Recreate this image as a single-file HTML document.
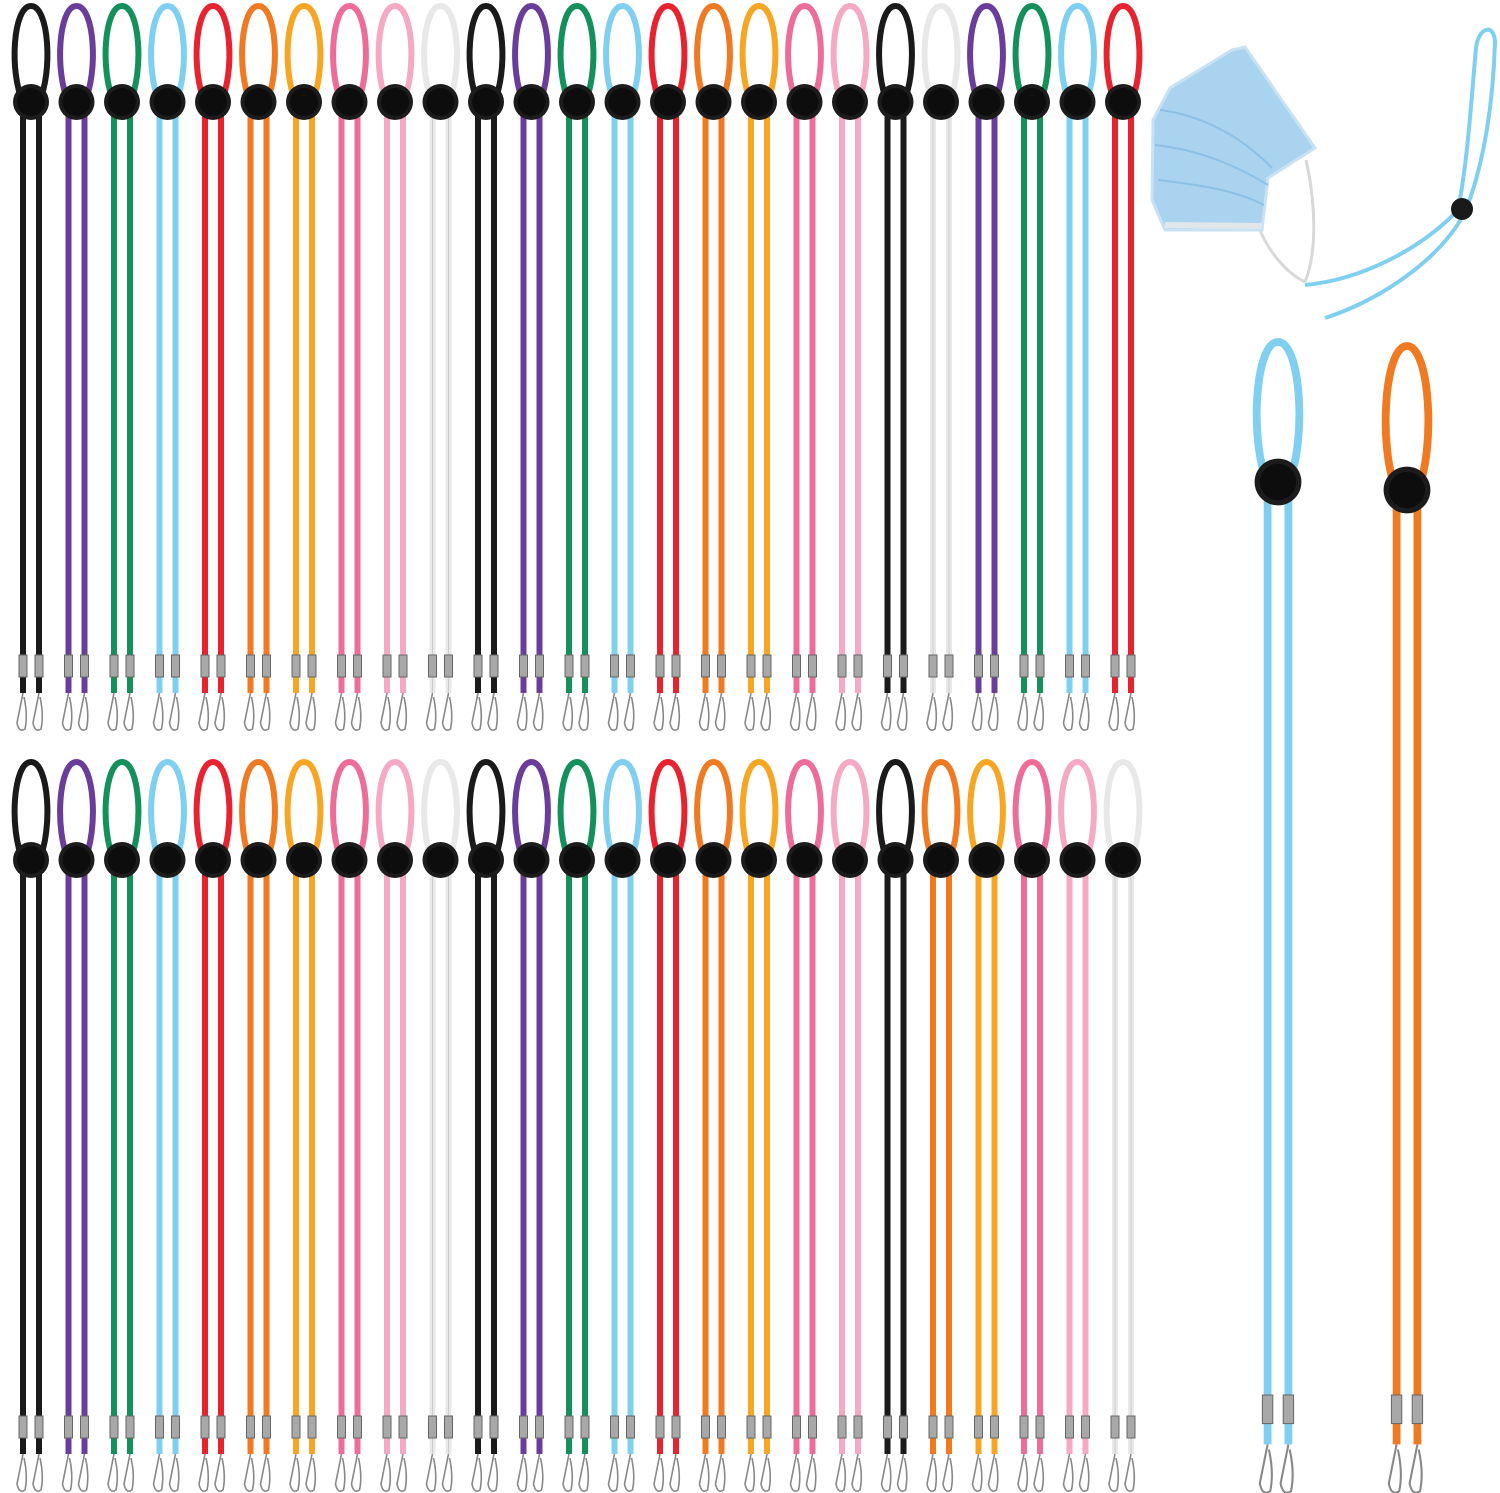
<!DOCTYPE html>
<html><head><meta charset="utf-8"><style>
html,body{margin:0;padding:0;background:#fff;width:1500px;height:1493px;overflow:hidden}
</style></head><body>
<svg id="s" width="1500" height="1493" viewBox="0 0 1500 1493" xmlns="http://www.w3.org/2000/svg"></svg>
<script>
const C={k:'#1a1a1a',p:'#6a3d9a',g:'#14905a',b:'#7fcff0',r:'#e8232f',o:'#f07a22',y:'#f6a623',h:'#ee6c98',l:'#f5a9c4',w:'#e8e8e8'};
const row1='k p g b r o y h l w k p g b r o y h l k w p g b r'.split(' ');
const row2='k p g b r o y h l w k p g b r o y h l k o y h l w'.split(' ');
let out='';
function lany(cx,top,by,bot,col,s){
  const dx=8*s, cw=6*s, lw=18*s;
  out+=`<path d="M${cx-dx} ${by} C${cx-lw-4*s} ${by-30*s} ${cx-lw} ${top} ${cx} ${top} C${cx+lw} ${top} ${cx+lw+4*s} ${by-30*s} ${cx+dx} ${by}" fill="none" stroke="${col}" stroke-width="${cw}"/>`;
  for(const x of [cx-dx,cx+dx]){
    out+=`<line x1="${x}" y1="${by}" x2="${x}" y2="${bot+38*s}" stroke="${col}" stroke-width="${cw}"/>`;
    if(col==='#e8e8e8') out+=`<line x1="${x}" y1="${by}" x2="${x}" y2="${bot+38*s}" stroke="#ccc" stroke-width="1"/>`;
  }
  out+=`<circle cx="${cx}" cy="${by}" r="${18*s}" fill="#1c1c1c"/><circle cx="${cx}" cy="${by}" r="${14*s}" fill="#0d0d0d"/>`;
  for(const x of [cx-dx,cx+dx]){
    out+=`<rect x="${x-4*s}" y="${bot}" width="${8*s}" height="${22*s}" fill="#a8a8a8" stroke="#666" stroke-width="1"/>`;
    out+=`<path d="M${x} ${bot+38*s} L${x-6*s} ${bot+68*s} Q${x-4*s} ${bot+78*s} ${x+2*s} ${bot+74*s} Q${x+5*s} ${bot+60*s} ${x+1*s} ${bot+42*s}" fill="none" stroke="#888" stroke-width="${1.6*s}"/>`;
  }
}
for(let i=0;i<25;i++){const cx=31+i*45.5;lany(cx,6,102,655,C[row1[i]],1);lany(cx,762,860,1416,C[row2[i]],1);}
lany(1278,342,482,1395,C.b,1.3);
lany(1407,346,490,1395,C.o,1.3);
out+=`<path d="M1305 285 C1360 280 1420 250 1458 210 C1468 160 1472 90 1476 48 C1478 28 1494 22 1495 42 C1493 110 1482 170 1465 212 C1440 260 1380 300 1325 318" fill="none" stroke="${C.b}" stroke-width="4"/>`;
out+=`<circle cx="1462" cy="209" r="11" fill="#1a1a1a"/>`;
out+=`<path d="M1306 160 C1315 200 1318 250 1305 282 M1260 230 C1270 255 1290 275 1305 282" fill="none" stroke="#d8d8d8" stroke-width="3"/>`;
out+=`<path d="M1232 50 L1245 47 L1315 148 L1268 178 L1262 230 L1165 230 L1152 200 L1153 120 L1170 88 Z" fill="#a9d3ee" stroke="#c9e2f3" stroke-width="3"/>`;
out+=`<path d="M1160 110 C1200 115 1240 135 1272 168 M1155 145 C1200 150 1235 165 1268 185 M1158 180 C1200 185 1235 190 1264 205" stroke="#8cc0e4" stroke-width="2" fill="none"/>`;
out+=`<path d="M1165 225 L1262 226" stroke="#e0e6ea" stroke-width="6"/>`;
document.getElementById('s').innerHTML=out;
</script>
</body></html>
